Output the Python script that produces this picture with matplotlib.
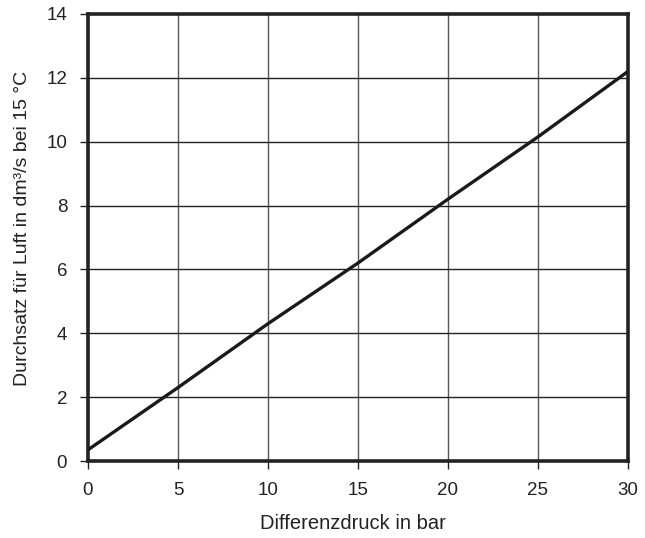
import matplotlib
matplotlib.use('Agg')
import matplotlib.pyplot as plt

plt.rcParams['font.family'] = ['Liberation Sans', 'DejaVu Sans']

# values
druck = [0, 5, 10, 15, 20, 25, 30]
durchsatz = [0.35, 2.3, 4.3, 6.2, 8.2, 10.15, 12.2]
xticks = [0, 5, 10, 15, 20, 25, 30]
yticks = [0, 2, 4, 6, 8, 10, 12, 14]

fig = plt.figure(figsize=(6.45, 5.38), dpi=100, facecolor='white')
ax = fig.add_axes([0.1364, 0.1431, 0.8372, 0.831])

ax.plot(druck, durchsatz, color='#1a1a1a', lw=2.4, solid_capstyle='butt', zorder=3)

ax.set_xlim(0, 30)
ax.set_ylim(0, 14)
ax.set_xticks(xticks)
ax.set_yticks(yticks)
ax.tick_params(direction='out', length=6, width=1, color='#222222',
               labelsize=13.5, labelcolor='#222222', pad=9)

for x in xticks[1:-1]:
    ax.axvline(x, color='#555555', lw=1, zorder=1)
for y in yticks[1:-1]:
    ax.axhline(y, color='#222222', lw=1, zorder=1)

for s in ax.spines.values():
    s.set_linewidth(2.6)
    s.set_color('#222222')

ax.set_xlabel('Differenzdruck in bar', fontsize=14.5, color='#222222')
ax.set_ylabel('Durchsatz für Luft in dm³/s bei 15 °C', fontsize=14, color='#222222')
ax.xaxis.set_label_coords(0.49, -0.118)
ax.yaxis.set_label_coords(-0.105, 0.52)

fig.savefig('out.png', dpi=100, facecolor='white')
